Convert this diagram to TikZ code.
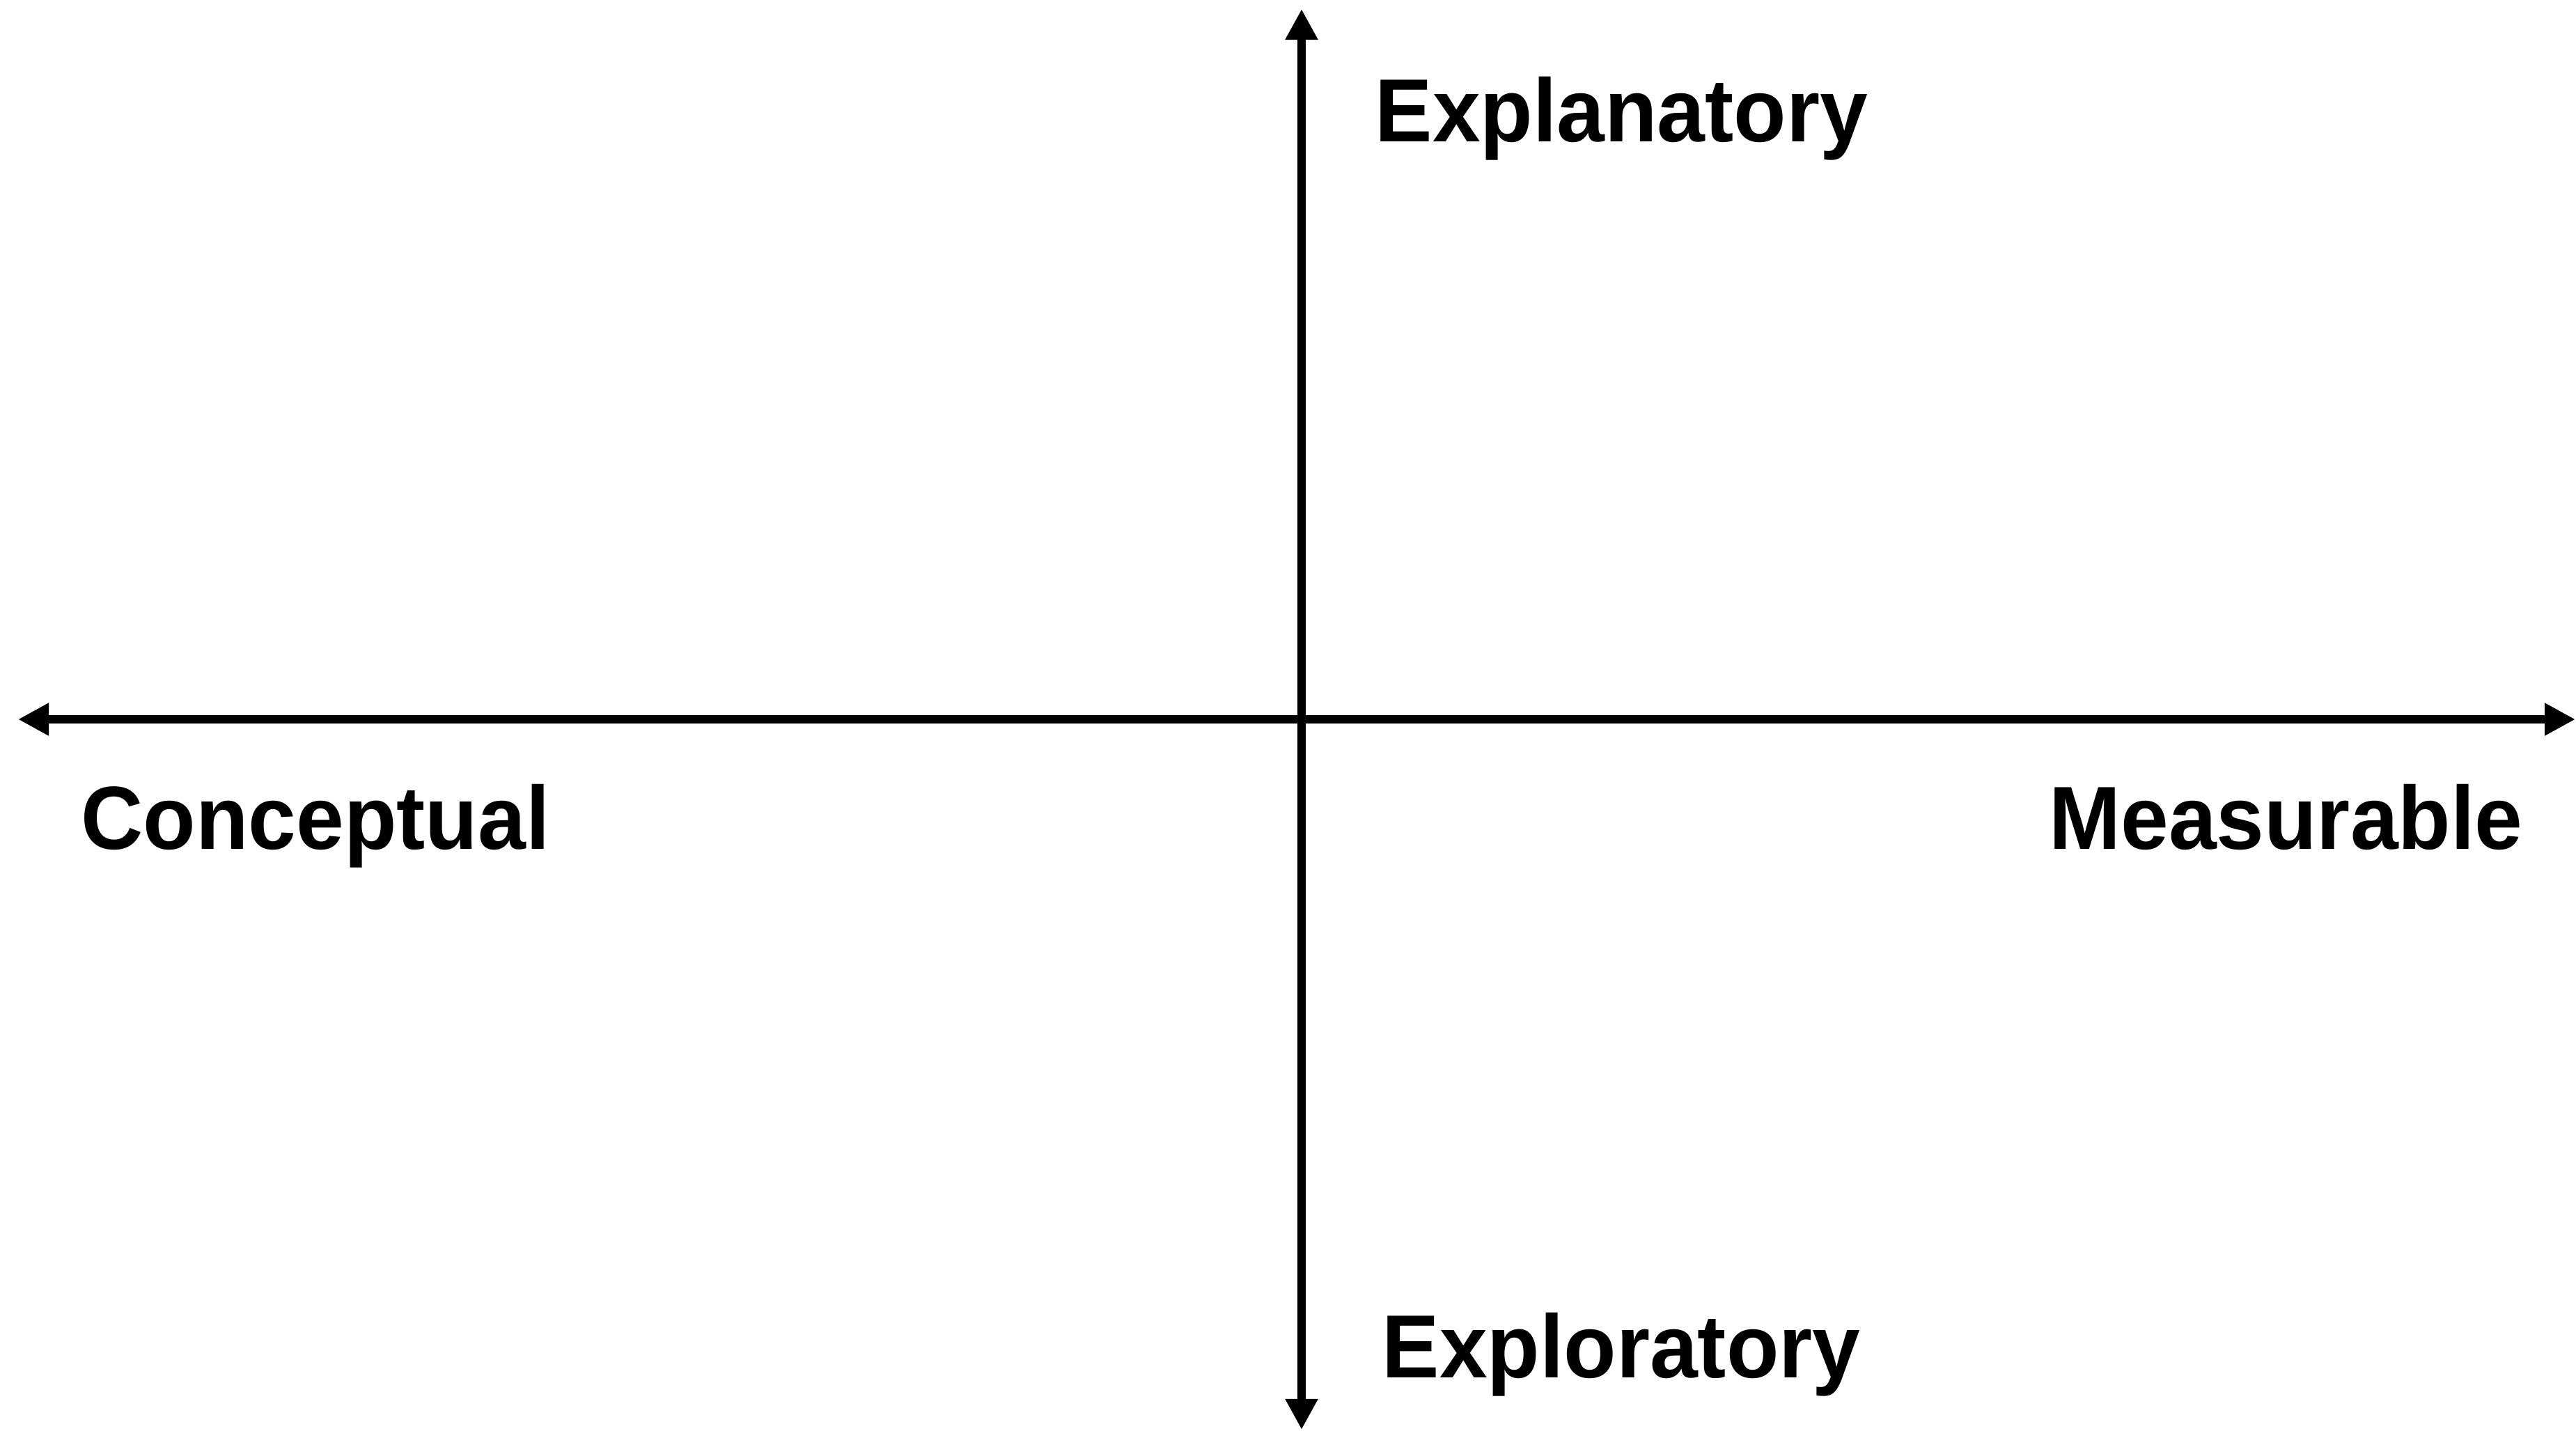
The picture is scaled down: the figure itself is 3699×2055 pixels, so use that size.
\documentclass[tikz,border=0pt]{standalone}
\usepackage{fontspec}
\setmainfont{Liberation Sans}[FakeStretch=0.96]
\usetikzlibrary{arrows.meta}
\tikzset{
  axis/.style={line width=0.12cm, {Triangle[length=0.44cm,width=0.44cm]}-{Triangle[length=0.44cm,width=0.44cm]}},
  lbl/.style={inner sep=0pt, font=\fontsize{36.6}{40}\selectfont\bfseries}
}
\begin{document}
\begin{tikzpicture}[x=0.01cm,y=-0.01cm]
\useasboundingbox (0,0) rectangle (3699,2055);
\coordinate (top) at (1869,13);
\coordinate (bot) at (1869,2053);
\coordinate (lft) at (26,1033);
\coordinate (rgt) at (3698,1033);
\draw[axis] (lft) -- (rgt);
\draw[axis] (top) -- (bot);
\node[lbl, anchor=base west] (expl) at (1974,204) {Explanatory};
\node[lbl, anchor=base west] (conc) at (116,1219) {Conceptual};
\node[lbl, anchor=base east] (meas) at (3623,1219) {Measurable};
\node[lbl, anchor=base west] (expo) at (1984,1978) {Exploratory};
\end{tikzpicture}
\end{document}
